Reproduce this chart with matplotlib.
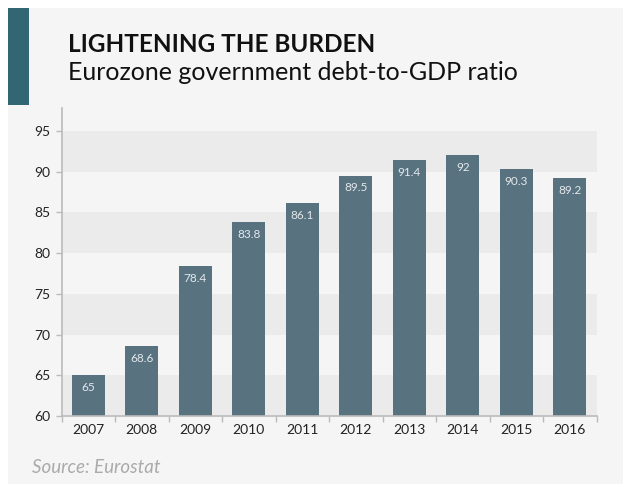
import matplotlib
matplotlib.use("Agg")
import matplotlib.pyplot as plt
from matplotlib.patches import Rectangle

years = ["2007", "2008", "2009", "2010", "2011", "2012", "2013", "2014", "2015", "2016"]
debt_ratio = [65, 68.6, 78.4, 83.8, 86.1, 89.5, 91.4, 92, 90.3, 89.2]
value_labels = ["65", "68.6", "78.4", "83.8", "86.1", "89.5", "91.4", "92", "90.3", "89.2"]
y_ticks = [60, 65, 70, 75, 80, 85, 90, 95]

W, H = 623, 492
fig = plt.figure(figsize=(W / 100, H / 100), dpi=100)
fig.patch.set_facecolor("white")

# card background and accent bar
fig.patches.append(Rectangle((8 / W, 1 - 484 / H), (W - 8) / W, 476 / H,
                             transform=fig.transFigure, facecolor="#f5f5f5",
                             edgecolor="none", zorder=-5))
fig.patches.append(Rectangle((8 / W, 1 - 105 / H), 21 / W, 97 / H,
                             transform=fig.transFigure, facecolor="#336673",
                             edgecolor="none", zorder=-4))

font = ["Lato", "DejaVu Sans"]
fig.text(68 / W, 1 - 52 / H, "LIGHTENING THE BURDEN", fontsize=17.5, fontweight="bold",
         family=font, color="#111111", va="baseline")
fig.text(68 / W, 1 - 80 / H, "Eurozone government debt-to-GDP ratio", fontsize=18,
         family=font, color="#111111", va="baseline")
fig.text(32 / W, 1 - 473 / H, "Source: Eurostat", fontsize=13.5, style="italic",
         family=font, color="#aaaaaa", va="baseline")

ax = fig.add_axes([61.5 / W, 1 - 416 / H, 535 / W, 308 / H])
ax.set_zorder(2)
ax.set_facecolor("none")
ax.set_xlim(-0.5, len(years) - 0.5)
ax.set_ylim(60, 97.8)

# alternating horizontal bands
for lo in range(60, 95, 10):
    ax.axhspan(lo, lo + 5, color="#ebebeb", zorder=0, lw=0)

x = list(range(len(years)))
ax.bar(x, [v - 60 for v in debt_ratio], bottom=60, width=0.62, color="#587280", zorder=2)
for xi, v, lab in zip(x, debt_ratio, value_labels):
    ax.text(xi, v - 1.5, lab, ha="center", va="center", fontsize=8.5,
            family=font, color="#e4e9ec", zorder=3)

ax.set_yticks(y_ticks)
ax.set_yticklabels([str(t) for t in y_ticks])
ax.set_xticks([i - 0.5 for i in range(len(years) + 1)])
ax.set_xticklabels([])
ax.set_xticks(x, minor=True)
ax.set_xticklabels(years, minor=True)
ax.tick_params(axis="x", which="minor", length=0, pad=6)
ax.tick_params(axis="x", which="major", length=4, color="#bbbbbb", width=1)
ax.tick_params(axis="y", length=4, color="#bbbbbb", width=1, pad=4)
for lab in ax.get_yticklabels() + ax.get_xticklabels(minor=True):
    lab.set_family(font)
    lab.set_fontsize(10)
    lab.set_color("#222222")

for side in ("top", "right"):
    ax.spines[side].set_visible(False)
for side in ("left", "bottom"):
    ax.spines[side].set_color("#bbbbbb")
    ax.spines[side].set_linewidth(1.2)

fig.savefig("out.png", dpi=100, facecolor=fig.get_facecolor())
